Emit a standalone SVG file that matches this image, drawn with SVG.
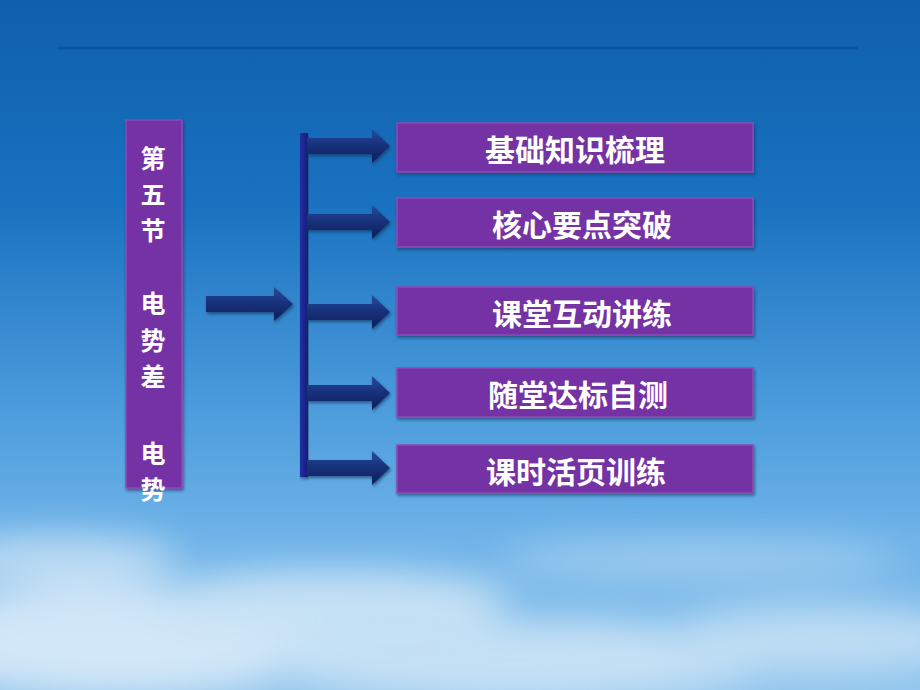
<svg xmlns="http://www.w3.org/2000/svg" width="920" height="690" viewBox="0 0 920 690">
<defs>
<linearGradient id="sky" x1="0" y1="0" x2="0" y2="1">
<stop offset="0" stop-color="#0e5fad"/>
<stop offset="0.3" stop-color="#1a72c0"/>
<stop offset="0.6" stop-color="#4d9ddd"/>
<stop offset="0.78" stop-color="#6fb3e8"/>
<stop offset="1" stop-color="#8ec4ec"/>
</linearGradient>
<linearGradient id="arrowG" x1="0" y1="0" x2="0" y2="1">
<stop offset="0" stop-color="#2a4a9a"/>
<stop offset="0.5" stop-color="#16307a"/>
<stop offset="1" stop-color="#0c1f5c"/>
</linearGradient>
<linearGradient id="barG" x1="0" y1="0" x2="1" y2="0">
<stop offset="0" stop-color="#2430a0"/>
<stop offset="1" stop-color="#141c78"/>
</linearGradient>
<filter id="blur" x="-50%" y="-50%" width="200%" height="200%"><feGaussianBlur stdDeviation="18"/></filter>
<filter id="sh" x="-10%" y="-20%" width="120%" height="150%"><feDropShadow dx="1" dy="2" stdDeviation="1.5" flood-color="#0a2a50" flood-opacity="0.6"/></filter>
<path id="arr" d="M0,-8 L65,-8 L65,-17 L83,0 L65,17 L65,8 L0,8 Z"/>
</defs>
<style>
.box{fill:#7432a4;stroke:#8a4cb8;stroke-width:1.5;filter:url(#sh)}
.t{font-family:"Noto Sans CJK SC","Noto Sans CJK TC",sans-serif;font-weight:bold;fill:#ffffff;dominant-baseline:central}
.bt{font-size:30px;text-anchor:middle}
.vt{font-size:25px;text-anchor:middle}
.ar{fill:url(#arrowG);filter:url(#sh)}
</style>
<rect width="920" height="690" fill="url(#sky)"/>
<g opacity="0.8" filter="url(#blur)">
<ellipse cx="120" cy="640" rx="220" ry="55" fill="#e6f2fb"/>
<ellipse cx="330" cy="600" rx="180" ry="30" fill="#d8ebf8"/>
<ellipse cx="60" cy="560" rx="120" ry="25" fill="#cfe5f6"/>
<ellipse cx="520" cy="660" rx="260" ry="40" fill="#d5e9f8"/>
<ellipse cx="820" cy="640" rx="160" ry="35" fill="#cce4f6"/>
<ellipse cx="700" cy="560" rx="200" ry="20" fill="#a9d2f0"/>
</g>
<line x1="57" y1="48" x2="858" y2="48" stroke="#0a55a3" stroke-width="3"/>
<g id="title">
<rect class="box" x="126" y="120" width="56" height="368"/>
<text class="t vt" x="153" y="157">第</text>
<text class="t vt" x="153" y="193">五</text>
<text class="t vt" x="153" y="229">节</text>
<text class="t vt" x="153" y="302">电</text>
<text class="t vt" x="153" y="339">势</text>
<text class="t vt" x="153" y="375">差</text>
<text class="t vt" x="153" y="452">电</text>
<text class="t vt" x="153" y="488">势</text>
</g>
<g id="connectors">
<path class="ar" d="M206,296 L274,296 L274,287 L293,304 L274,321 L274,312 L206,312 Z"/>
<rect x="300" y="133" width="8" height="344" fill="url(#barG)" filter="url(#sh)"/>
<use class="ar" href="#arr" x="307" y="146"/>
<use class="ar" href="#arr" x="307" y="222"/>
<use class="ar" href="#arr" x="307" y="312"/>
<use class="ar" href="#arr" x="307" y="393"/>
<use class="ar" href="#arr" x="307" y="468"/>
</g>
<g id="n1"><rect class="box" x="397" y="123" width="356" height="49"/><text class="t bt" x="575" y="148">基础知识梳理</text></g>
<g id="n2"><rect class="box" x="397" y="198" width="356" height="49"/><text class="t bt" x="582" y="223">核心要点突破</text></g>
<g id="n3"><rect class="box" x="397" y="287" width="356" height="48"/><text class="t bt" x="582" y="312">课堂互动讲练</text></g>
<g id="n4"><rect class="box" x="397" y="368" width="356" height="49"/><text class="t bt" x="578" y="393">随堂达标自测</text></g>
<g id="n5"><rect class="box" x="397" y="445" width="356" height="48"/><text class="t bt" x="576" y="470">课时活页训练</text></g>
</svg>
